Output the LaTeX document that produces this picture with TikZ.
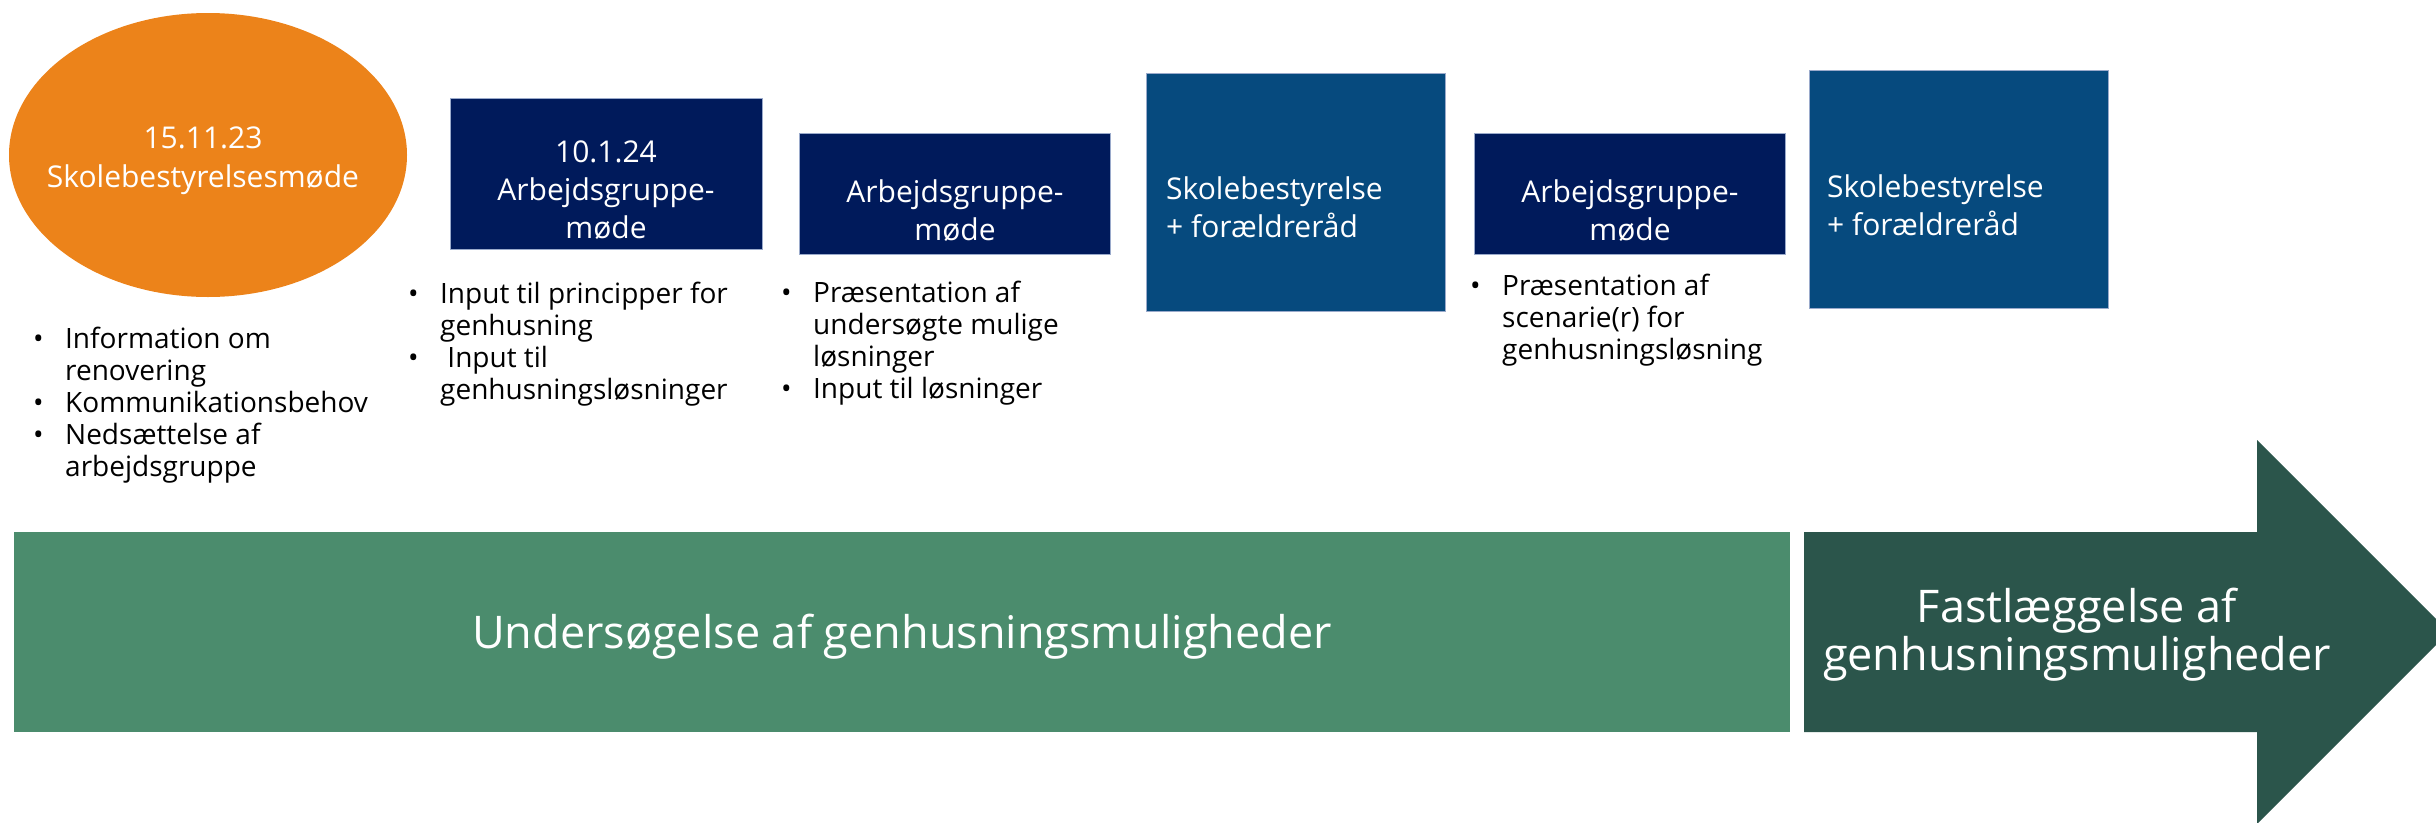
\documentclass[tikz,border=0pt]{standalone}
\usepackage{fontspec}
\setmainfont{Open Sans}
\usetikzlibrary{shapes.geometric}
\definecolor{korange}{HTML}{EC831A}
\definecolor{knavy}{HTML}{001A5B}
\definecolor{kblue}{HTML}{064A7E}
\definecolor{kgreen}{HTML}{4B8C6D}
\definecolor{kdark}{HTML}{2B554B}
\definecolor{kedge}{HTML}{9AAACB}
\newcommand{\bul}{\makebox[32pt][l]{•}}
\newcommand{\ind}{\hspace*{32pt}}
\begin{document}
\begin{tikzpicture}[x=1pt,y=-1pt,
  boxnode/.style={rectangle, anchor=north west, inner sep=0pt, draw=kedge, line width=1pt},
  boxtext/.style={text=white, inner sep=0pt, font=\fontsize{30}{38}\selectfont},
  listtext/.style={text=black, inner sep=0pt, align=left, anchor=base west, font=\fontsize{28}{32}\selectfont},
  bandtext/.style={text=white, inner sep=0pt, align=center, anchor=base, font=\fontsize{45}{48}\selectfont}]
\useasboundingbox (0,0) rectangle (2436,822);
% top row
\node[ellipse, fill=korange, minimum width=398pt, minimum height=284pt, inner sep=0pt] (e1) at (208,155) {};
\node[boxtext, align=center, anchor=base] (e1t) at (203,187) {15.11.23\\[1pt]Skolebestyrelsesmøde};
\node[boxnode, fill=knavy, minimum width=312pt, minimum height=151pt] (b1) at (450,98) {};
\node[boxtext, align=center, anchor=base] (b1t) at (606,238) {10.1.24\\Arbejdsgruppe-\\møde};
\node[boxnode, fill=knavy, minimum width=311pt, minimum height=121pt] (b2) at (799,133) {};
\node[boxtext, align=center, anchor=base] (b2t) at (955,240) {Arbejdsgruppe-\\møde};
\node[boxnode, fill=kblue, minimum width=299pt, minimum height=238pt] (b3) at (1146,73) {};
\node[boxtext, align=left, anchor=base west] (b3t) at (1166,237) {Skolebestyrelse\\+ forældreråd};
\node[boxnode, fill=knavy, minimum width=311pt, minimum height=121pt] (b4) at (1474,133) {};
\node[boxtext, align=center, anchor=base] (b4t) at (1630,240) {Arbejdsgruppe-\\møde};
\node[boxnode, fill=kblue, minimum width=299pt, minimum height=238pt] (b5) at (1809,70) {};
\node[boxtext, align=left, anchor=base west] (b5t) at (1827,235) {Skolebestyrelse\\+ forældreråd};
% lists (anchored at the baseline of their last line)
\node[listtext] (l1) at (33,476) {\bul Information om\\\ind renovering\\\bul Kommunikationsbehov\\\bul Nedsættelse af\\\ind arbejdsgruppe};
\node[listtext] (l2) at (408,399) {\bul Input til principper for\\\ind genhusning\\\bul \ Input til\\\ind genhusningsløsninger};
\node[listtext] (l3) at (781,398) {\bul Præsentation af\\\ind undersøgte mulige\\\ind løsninger\\\bul Input til løsninger};
\node[listtext] (l4) at (1470,359) {\bul Præsentation af\\\ind scenarie(r) for\\\ind genhusningsløsning};
% bottom band
\fill[kgreen] (14,532) rectangle (1790,732);
\fill[kdark] (1804,532) -- (2257,532) -- (2257,440) -- (2449,632) -- (2257,824) -- (2257,732) -- (1804,732) -- cycle;
\node[bandtext] (u) at (902,648) {Undersøgelse af genhusningsmuligheder};
\node[bandtext] (f) at (2077,670) {Fastlæggelse af\\genhusningsmuligheder};
\end{tikzpicture}
\end{document}
